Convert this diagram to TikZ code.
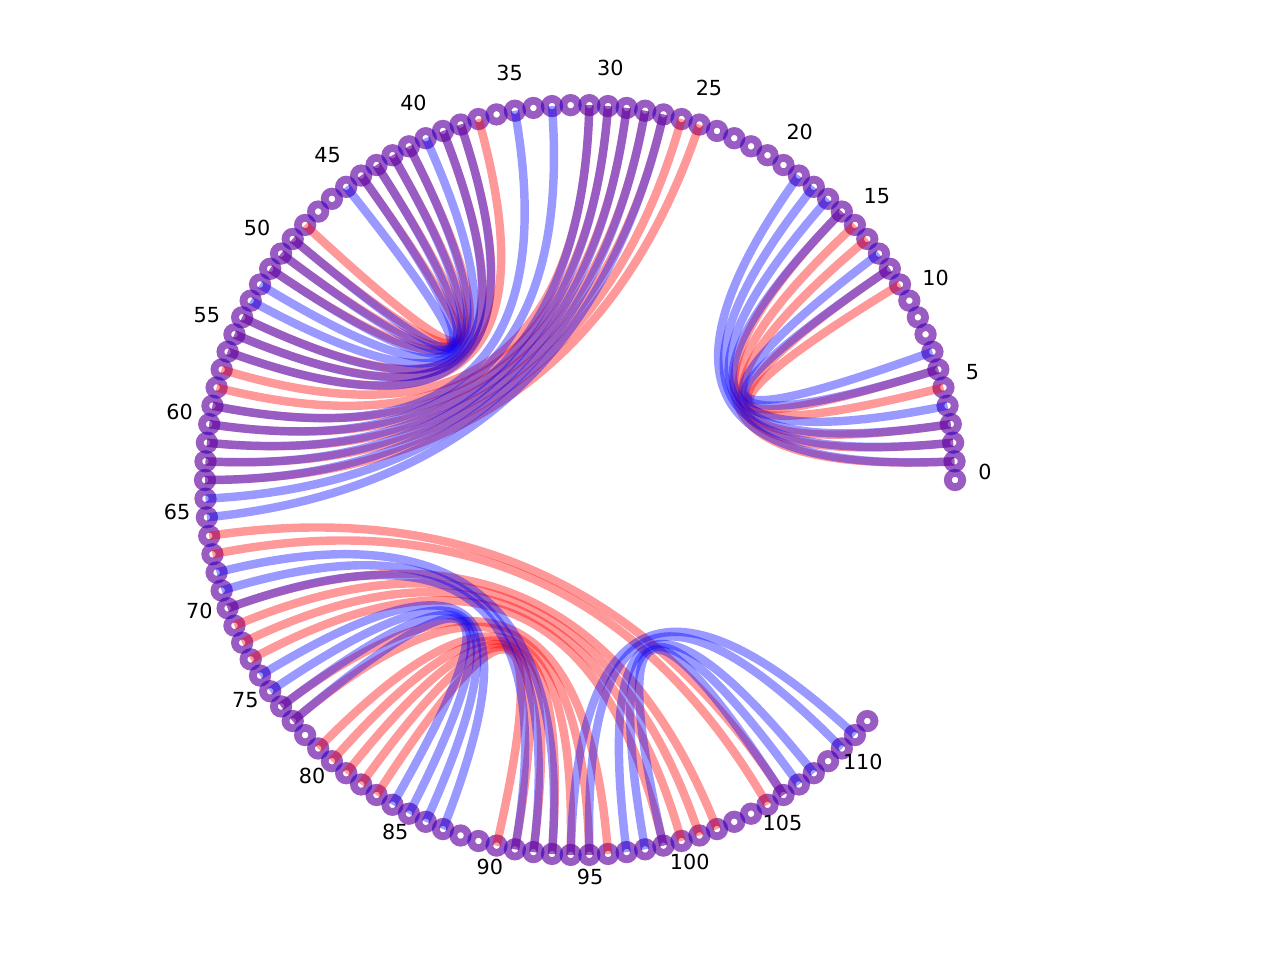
\documentclass[tikz,border=0pt]{standalone}
\usepackage{fontspec}
\setmainfont{DejaVu Sans}
\usetikzlibrary{calc}

% quadratic curve through the centre O
\newcommand{\bpair}[3]{\draw[#1] (V#2) .. controls ($(V#2)!0.6667!(O)$) and ($(V#3)!0.6667!(O)$) .. (V#3);}

\begin{document}
\begin{tikzpicture}[redpair/.style={draw=red, draw opacity=0.4, line width=2.4pt},
                    bluepair/.style={draw=blue, draw opacity=0.4, line width=2.4pt},
                    ring/.style={opacity=0.4, line width=2.2pt},
                    every node/.style={font=\fontsize{5.9}{7}\selectfont}]
    \useasboundingbox (0,0) rectangle (12.8,9.6);
    \coordinate (O) at (5.8,4.8);
    \foreach \i in {0,...,112}
        \coordinate (V\i) at ($(O)+(\i*20/7:3.75)$);

    \foreach \i in {0,...,112}
        \draw[ring, red] (V\i) circle (0.072);
    \foreach \i in {0,...,112}
        \draw[ring, blue] (V\i) circle (0.072);

    \foreach \i in {0,5,...,110}
        \node (L\i) at ($(O)+(\i*20/7:4.05)+(0,0.08)$) {\i};

    \bpair{redpair}{1}{16}
    \bpair{redpair}{2}{15}
    \bpair{redpair}{3}{14}
    \bpair{redpair}{5}{12}
    \bpair{redpair}{6}{11}

    \bpair{redpair}{44}{48}
    \bpair{redpair}{43}{49}
    \bpair{redpair}{42}{50}
    \bpair{redpair}{41}{51}
    \bpair{redpair}{39}{54}
    \bpair{redpair}{38}{55}
    \bpair{redpair}{37}{56}
    \bpair{redpair}{31}{57}
    \bpair{redpair}{30}{58}
    \bpair{redpair}{29}{59}
    \bpair{redpair}{28}{60}
    \bpair{redpair}{27}{61}
    \bpair{redpair}{26}{62}
    \bpair{redpair}{25}{63}

    \bpair{redpair}{83}{90}
    \bpair{redpair}{82}{91}
    \bpair{redpair}{81}{92}
    \bpair{redpair}{80}{93}
    \bpair{redpair}{79}{94}
    \bpair{redpair}{77}{95}
    \bpair{redpair}{76}{96}
    \bpair{redpair}{73}{99}
    \bpair{redpair}{72}{100}
    \bpair{redpair}{71}{101}
    \bpair{redpair}{70}{102}
    \bpair{redpair}{67}{105}
    \bpair{redpair}{66}{106}

    \bpair{bluepair}{1}{19}
    \bpair{bluepair}{2}{18}
    \bpair{bluepair}{3}{17}
    \bpair{bluepair}{4}{16}
    \bpair{bluepair}{6}{13}
    \bpair{bluepair}{7}{12}

    \bpair{bluepair}{45}{49}
    \bpair{bluepair}{44}{50}
    \bpair{bluepair}{43}{51}
    \bpair{bluepair}{42}{52}
    \bpair{bluepair}{41}{53}
    \bpair{bluepair}{40}{54}
    \bpair{bluepair}{39}{55}
    \bpair{bluepair}{38}{56}
    \bpair{bluepair}{35}{59}
    \bpair{bluepair}{33}{60}
    \bpair{bluepair}{31}{61}
    \bpair{bluepair}{30}{62}
    \bpair{bluepair}{29}{63}
    \bpair{bluepair}{28}{64}
    \bpair{bluepair}{27}{65}

    \bpair{bluepair}{68}{93}
    \bpair{bluepair}{69}{92}
    \bpair{bluepair}{70}{91}
    \bpair{bluepair}{74}{87}
    \bpair{bluepair}{75}{86}
    \bpair{bluepair}{76}{85}
    \bpair{bluepair}{77}{84}
    \bpair{bluepair}{94}{111}
    \bpair{bluepair}{95}{110}
    \bpair{bluepair}{97}{108}
    \bpair{bluepair}{98}{107}
    \bpair{bluepair}{99}{106}
\end{tikzpicture}
\end{document}
